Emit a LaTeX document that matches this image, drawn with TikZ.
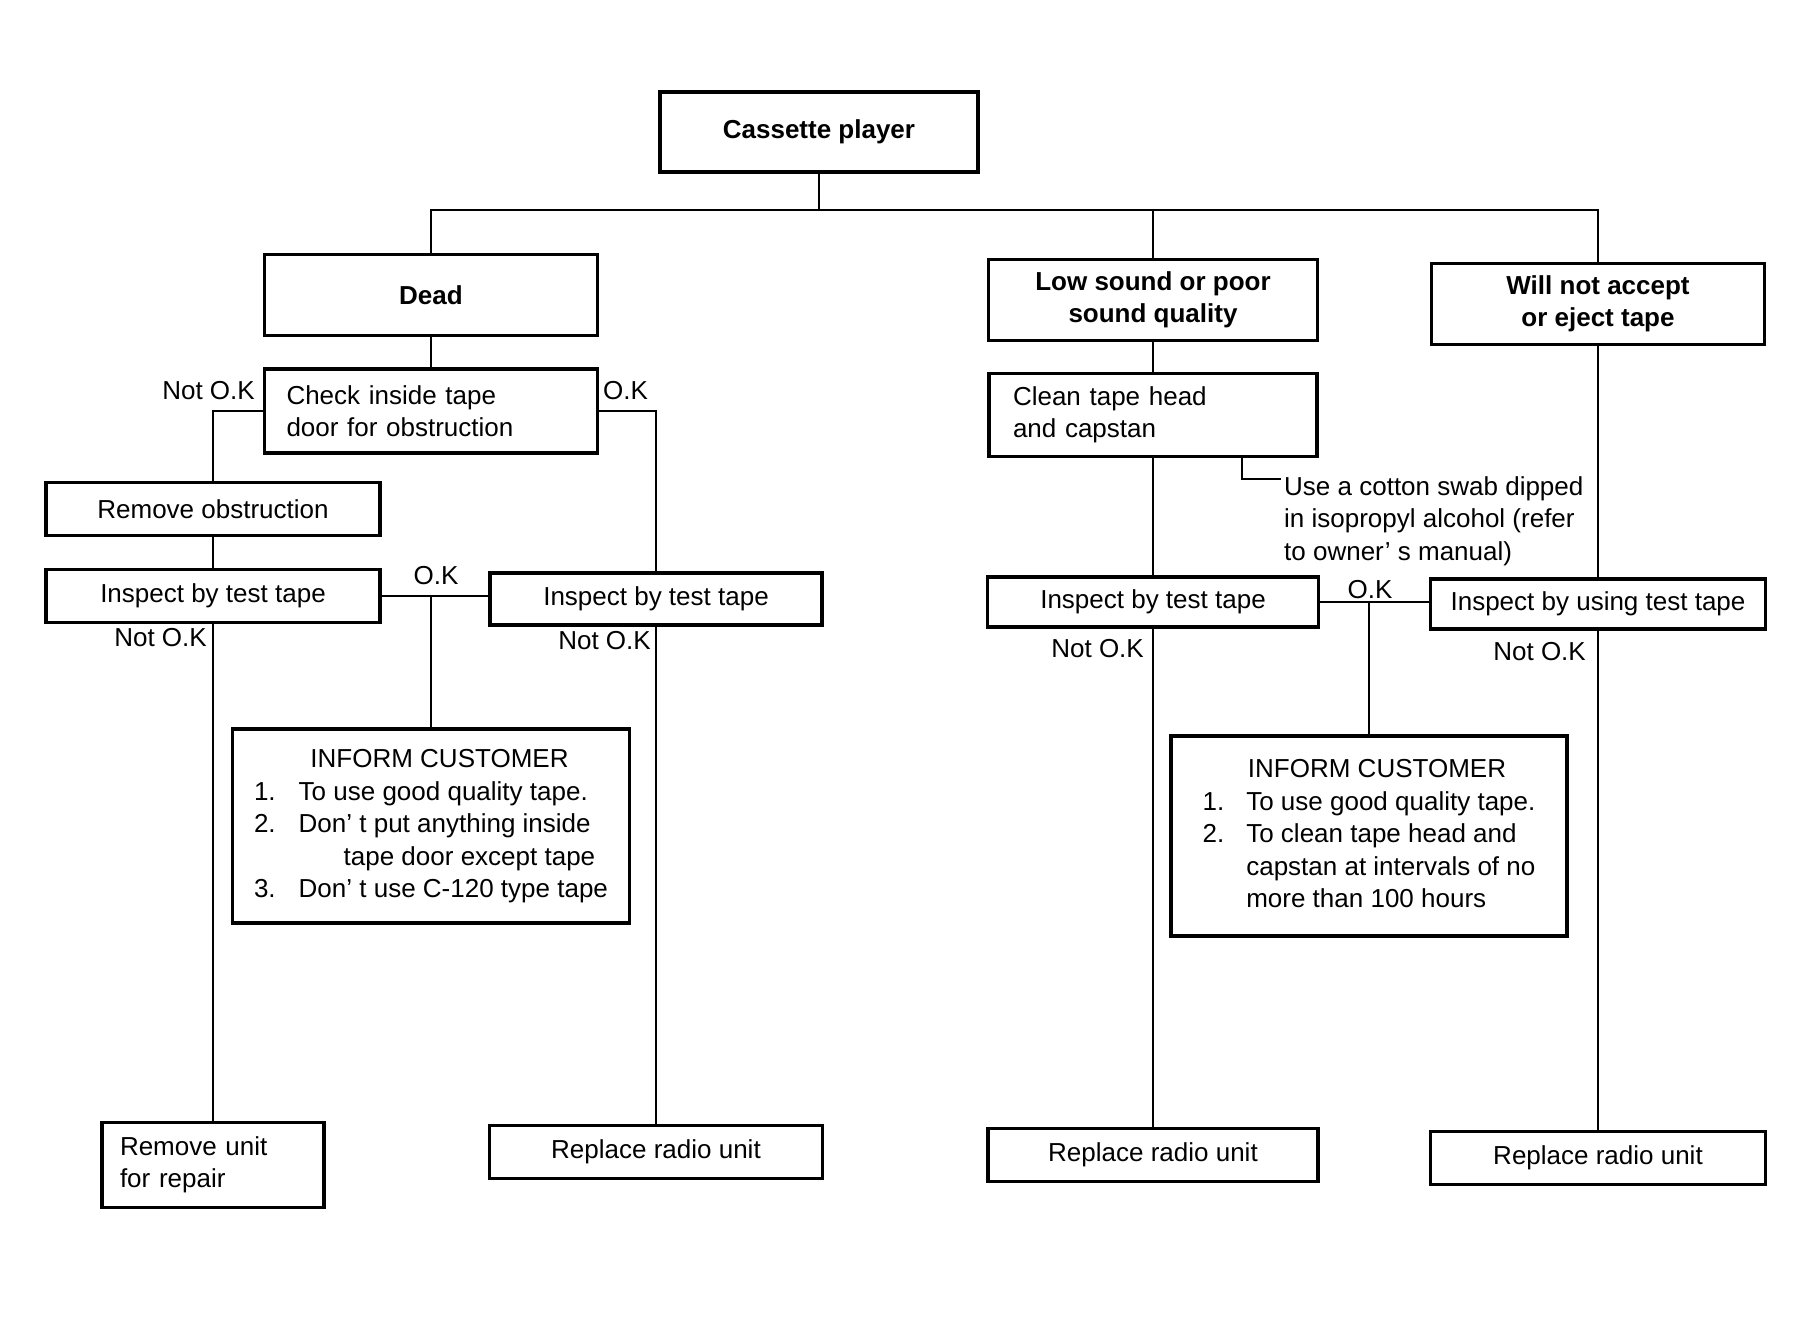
\documentclass[tikz,border=0pt]{standalone}
\usepackage{fontspec}
\setmainfont{Liberation Sans}
\newcommand{\chartfont}{\fontsize{26}{32.5}\selectfont}

\begin{document}
\begin{tikzpicture}[x=1pt, y=-1pt,
    box/.style={draw, line width=3.2pt, inner sep=0pt, align=center, font=\chartfont},
    headbox/.style={box, font=\chartfont\bfseries},
    wire/.style={line width=2.4pt},
    lbl/.style={inner sep=0pt, font=\chartfont}]

    \useasboundingbox (0,0) rectangle (1798,1328);

    % ;- Top level ;-
    \node[headbox, minimum width=318pt, minimum height=80pt] (cas) at (819,132) {Cassette player};
    \coordinate (bus) at (0,210);
    \node[headbox, minimum width=333pt, minimum height=81pt] (dead) at (431,295) {Dead};
    \node[headbox, minimum width=329pt, minimum height=81pt] (low) at (1153,300)
        {Low sound or poor\\sound quality};
    \node[headbox, minimum width=333pt, minimum height=81pt] (will) at (1598,304)
        {Will not accept\\or eject tape};
    % the bus joining the three faults
    \draw[wire] (cas.south) -- (cas.south |- bus);
    \draw[wire] (dead.north) |- (bus -| will.north) -- (will.north);
    \draw[wire] (low.north) -- (low.north |- bus);

    % ;- Dead ;-
    \node[box, align=left, text width=289pt, inner xsep=22pt, minimum height=84pt] (check) at (431,411)
        {Check inside tape\\door for obstruction};
    \node[box, minimum width=334pt, minimum height=53pt] (remobs) at (213,509) {Remove obstruction};
    \node[box, minimum width=334pt, minimum height=53pt] (insp1) at (213,596) {Inspect by test tape};
    \node[box, minimum width=332pt, minimum height=52pt] (insp2) at (656,599) {Inspect by test tape};
    \draw[wire] (dead.south) -- (check.north);
    \draw[wire] (check.west) -| (remobs.north);
    \draw[wire] (check.east) -| (insp2.north);
    \draw[wire] (remobs.south) -- (insp1.north);
    \node[lbl, anchor=east] (nok1) at (255,391) {Not O.K};
    \node[lbl, anchor=west] (ok1) at (603,391) {O.K};

    % customer advice when tape is fine
    \node[box, minimum width=397pt, minimum height=194pt] (inf1) at (431,826) {%
        \begin{tabular}{@{}l@{\hspace{23pt}}l@{}}
        \multicolumn{2}{@{}c@{}}{\hspace{17pt}INFORM CUSTOMER}\\
        1. & To use good quality tape.\\
        2. & Don' t put anything inside\\
           & \hspace{45pt}tape door except tape\\
        3. & Don' t use C-120 type tape
        \end{tabular}};
    \draw[wire] (insp1.east) -- (insp1.east -| insp2.west);
    \draw[wire] (insp1.east -| inf1.north) -- (inf1.north);
    \node[lbl] (ok2) at (436,576) {O.K};

    % end boxes
    \node[box, align=left, text width=186pt, inner xsep=18pt, minimum height=85pt] (remunit) at (213,1165)
        {Remove unit\\for repair};
    \node[box, minimum width=333pt, minimum height=53pt] (rep1) at (656,1152) {Replace radio unit};
    \draw[wire] (insp1.south) -- (remunit.north);
    \draw[wire] (insp2.south) -- (rep1.north);
    \node[lbl, anchor=east] (nok2) at (207,638) {Not O.K};
    \node[lbl, anchor=east] (nok3) at (651,641) {Not O.K};

    % ;- Low sound ;-
    \node[box, align=left, text width=280pt, inner xsep=24pt, minimum height=83pt] (clean) at (1153,415)
        {Clean tape head\\and capstan};
    \draw[wire] (low.south) -- (clean.north);
    \node[lbl, anchor=north west, align=left, inner sep=3pt] (swab) at (1281,473)
        {Use a cotton swab dipped\\in isopropyl alcohol (refer\\to owner' s manual)};
    \coordinate (tick) at (1242,479);
    \draw[wire] (clean.south -| tick) |- (tick -| swab.west);

    \node[box, minimum width=331pt, minimum height=50pt] (insp3) at (1153,602) {Inspect by test tape};
    \draw[wire] (clean.south) -- (insp3.north);

    % ;- Will not accept ;-
    \node[box, minimum width=335pt, minimum height=50pt] (insp4) at (1598,604) {Inspect by using test tape};
    \draw[wire] (will.south) -- (insp4.north);

    \node[box, minimum width=396pt, minimum height=200pt] (inf2) at (1369,836) {%
        \begin{tabular}{@{}l@{\hspace{22pt}}l@{}}
        \multicolumn{2}{@{}c@{}}{\hspace{16pt}INFORM CUSTOMER}\\
        1. & To use good quality tape.\\
        2. & To clean tape head and\\
           & capstan at intervals of no\\
           & more than 100 hours
        \end{tabular}};
    \draw[wire] (insp3.east) -- (insp3.east -| insp4.west);
    \draw[wire] (insp3.east -| inf2.north) -- (inf2.north);
    \node[lbl] (ok3) at (1370,590) {O.K};

    \node[box, minimum width=330pt, minimum height=53pt] (rep2) at (1153,1155) {Replace radio unit};
    \node[box, minimum width=335pt, minimum height=53pt] (rep3) at (1598,1158) {Replace radio unit};
    \draw[wire] (insp3.south) -- (rep2.north);
    \draw[wire] (insp4.south) -- (rep3.north);
    \node[lbl, anchor=east] (nok4) at (1144,649) {Not O.K};
    \node[lbl, anchor=east] (nok5) at (1586,652) {Not O.K};

\end{tikzpicture}
\end{document}
